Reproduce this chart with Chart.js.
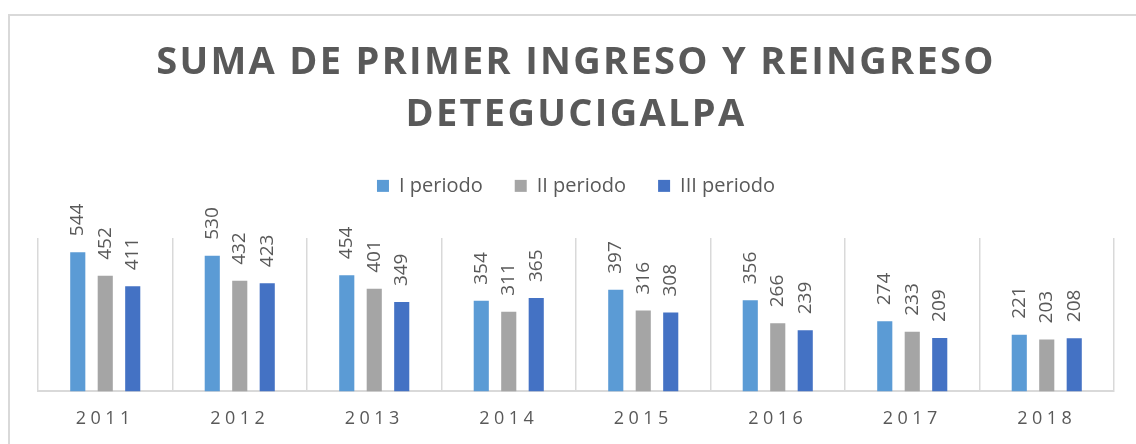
<!DOCTYPE html>
<html lang="es">

<head>
    <meta charset="UTF-8">
    <title>Suma de primer ingreso y reingreso Detegucigalpa</title>
    <script src="https://cdnjs.cloudflare.com/ajax/libs/Chart.js/4.4.1/chart.umd.min.js"></script>
    <style>
        html, body { margin: 0; padding: 0; background: #fff; overflow: hidden; }
        .frame {
            position: absolute; left: 8px; top: 14px;
            width: 1126px; height: 431px;
            border: 2px solid #d9d9d9;
        }
    </style>
</head>

<body>
    <div class="frame">
        <canvas id="ingresoChart"></canvas>
    </div>

    <script>
        const years = ['2011', '2012', '2013', '2014', '2015', '2016', '2017', '2018'];
        const periodoI = [544, 530, 454, 354, 397, 356, 274, 221];
        const periodoII = [452, 432, 401, 311, 316, 266, 233, 203];
        const periodoIII = [411, 423, 349, 365, 308, 239, 209, 208];
        const titleLines = ['SUMA DE PRIMER INGRESO Y REINGRESO', 'DETEGUCIGALPA'];

        Chart.defaults.font.family = '"Open Sans", sans-serif';
        Chart.defaults.color = '#595959';

        function withSpacing(ctx, spacing, fn) {
            const prev = ctx.letterSpacing;
            ctx.letterSpacing = spacing;
            fn();
            ctx.letterSpacing = prev;
        }

        // letter spacing for title and year labels, extra room under the legend
        const spacedText = {
            id: 'spacedText',
            beforeLayout(chart) {
                const legend = chart.legend;
                if (legend && !legend._padded) {
                    const fit = legend.fit.bind(legend);
                    legend.fit = function () { fit(); this.height += 32; };
                    legend._padded = true;
                }
            },
            beforeDraw(chart) {
                const title = chart.titleBlock;
                if (title && !title._spaced) {
                    const draw = title.draw.bind(title);
                    title.draw = () => withSpacing(chart.ctx, '2.3px', draw);
                    title._spaced = true;
                }
                const x = chart.scales.x;
                if (x && !x._spaced) {
                    const draw = x.drawLabels.bind(x);
                    x.drawLabels = (area) => withSpacing(chart.ctx, '4.5px', () => draw(area));
                    x._spaced = true;
                }
            }
        };

        // vertical value labels above each bar
        const barValues = {
            id: 'barValues',
            afterDatasetsDraw(chart) {
                const ctx = chart.ctx;
                ctx.save();
                ctx.font = '19px "Open Sans"';
                ctx.fillStyle = '#595959';
                ctx.textAlign = 'left';
                ctx.textBaseline = 'middle';
                chart.data.datasets.forEach((ds, i) => {
                    chart.getDatasetMeta(i).data.forEach((bar, j) => {
                        ctx.save();
                        ctx.translate(bar.x, bar.y - 16);
                        ctx.rotate(-Math.PI / 2);
                        ctx.fillText(ds.data[j], 0, 0);
                        ctx.restore();
                    });
                });
                ctx.restore();
            }
        };

        const ctx = document.getElementById('ingresoChart').getContext('2d');
        const chart = new Chart(ctx, {
            type: 'bar',
            data: {
                labels: years,
                datasets: [
                    { label: 'I periodo', data: periodoI, backgroundColor: '#5B9BD5' },
                    { label: 'II periodo', data: periodoII, backgroundColor: '#A5A5A5' },
                    { label: 'III periodo', data: periodoIII, backgroundColor: '#4472C4' }
                ]
            },
            options: {
                responsive: true,
                maintainAspectRatio: false,
                animation: false,
                datasets: {
                    bar: { barPercentage: 0.55, categoryPercentage: 0.613 }
                },
                layout: { padding: { left: 28, right: 22, top: 0, bottom: 0 } },
                plugins: {
                    title: {
                        display: true,
                        text: titleLines,
                        color: '#595959',
                        font: { size: 38, weight: 'bold', lineHeight: 1.38 },
                        padding: { top: 21, bottom: 2 }
                    },
                    legend: {
                        position: 'top',
                        labels: {
                            boxWidth: 12,
                            boxHeight: 12,
                            padding: 32,
                            color: '#595959',
                            font: { size: 20 }
                        }
                    },
                    tooltip: { enabled: false }
                },
                scales: {
                    x: {
                        grid: { display: true, offset: true, color: '#d9d9d9', lineWidth: 1.5, drawTicks: false },
                        border: { color: '#d9d9d9', width: 2 },
                        ticks: { color: '#595959', font: { size: 18 }, padding: 17, maxRotation: 0, autoSkip: false }
                    },
                    y: { display: false, min: 0, max: 600 }
                }
            },
            plugins: [spacedText, barValues]
        });
    </script>
</body>

</html>
